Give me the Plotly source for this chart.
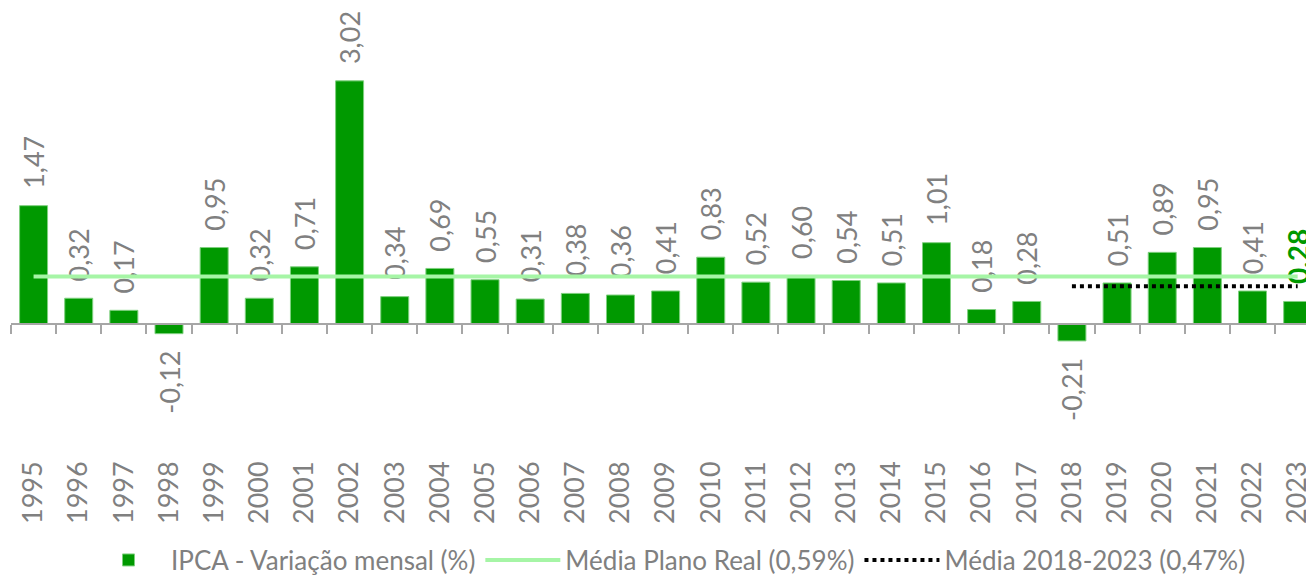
import plotly.graph_objects as go

# IPCA - variação mensal (%), 1995-2023
anos = [str(a) for a in range(1995, 2024)]
ipca = [1.47, 0.32, 0.17, -0.12, 0.95, 0.32, 0.71, 3.02, 0.34, 0.69,
        0.55, 0.31, 0.38, 0.36, 0.41, 0.83, 0.52, 0.60, 0.54, 0.51,
        1.01, 0.18, 0.28, -0.21, 0.51, 0.89, 0.95, 0.41, 0.28]
media_real = 0.59
anos_recentes = ["2018", "2019", "2020", "2021", "2022", "2023"]
media_recente = 0.47

ymin, ymax = -1.627, 3.925
zero_pos = (0 - ymin) / (ymax - ymin)

# rótulos com espaço extra junto à barra (afasta o texto como no Excel)
pad = "\u00a0" * 2
labels = []
for v in ipca:
    s = f"{v:.2f}".replace(".", ",")
    labels.append(pad + s if v >= 0 else s + pad)
labels[-1] = pad + "<b>" + f"{ipca[-1]:.2f}".replace(".", ",") + "</b>"
cores_txt = ["#808080"] * (len(ipca) - 1) + ["#009900"]
tam_txt = [27] * (len(ipca) - 1) + [28]

fig = go.Figure()
fig.add_trace(go.Bar(
    x=anos, y=ipca, name="IPCA - Variação mensal (%)",
    marker=dict(color="#009900", line=dict(color="#7fd07f", width=1)),
    text=labels, textposition="outside", textangle=-90,
    textfont=dict(color=cores_txt, size=tam_txt, family="Lato"),
    constraintext="none", cliponaxis=False,
))
fig.add_trace(go.Scatter(
    x=anos, y=[media_real] * len(anos), xaxis="x2",
    mode="lines", name="Média Plano Real (0,59%)",
    line=dict(color="#a6f5a6", width=4),
))
fig.add_trace(go.Scatter(
    x=anos_recentes, y=[media_recente] * len(anos_recentes),
    mode="lines", name="Média 2018-2023 (0,47%)",
    line=dict(color="black", width=4, dash="dot"),
))

fig.update_layout(
    width=1306, height=569,
    margin=dict(l=3, r=1, t=0, b=122, autoexpand=False),
    plot_bgcolor="white", paper_bgcolor="white",
    bargap=0.38,
    font=dict(family="Lato", color="#808080"),
    xaxis=dict(
        type="category", range=[-0.5, 28.34], automargin=False,
        showline=False, ticks="", tickangle=-90,
        tickfont=dict(size=27, color="#808080"),
        showgrid=False,
    ),
    xaxis2=dict(
        type="category", overlaying="x", anchor="free", position=zero_pos,
        range=[-0.5, 28.34], matches="x", automargin=False,
        showline=True, linecolor="#a6a6a6", linewidth=1.5,
        ticks="outside", tickson="boundaries", ticklen=9,
        tickcolor="#a6a6a6", tickwidth=1.5,
        showticklabels=False, showgrid=False,
    ),
    yaxis=dict(range=[ymin, ymax], visible=False, showgrid=False,
               zeroline=False, automargin=False),
    legend=dict(
        orientation="h", x=0.505, xanchor="center", y=-0.235, yanchor="middle",
        font=dict(size=26, color="#808080"), itemwidth=75,
    ),
    showlegend=True,
)

fig.write_html("out.html")
